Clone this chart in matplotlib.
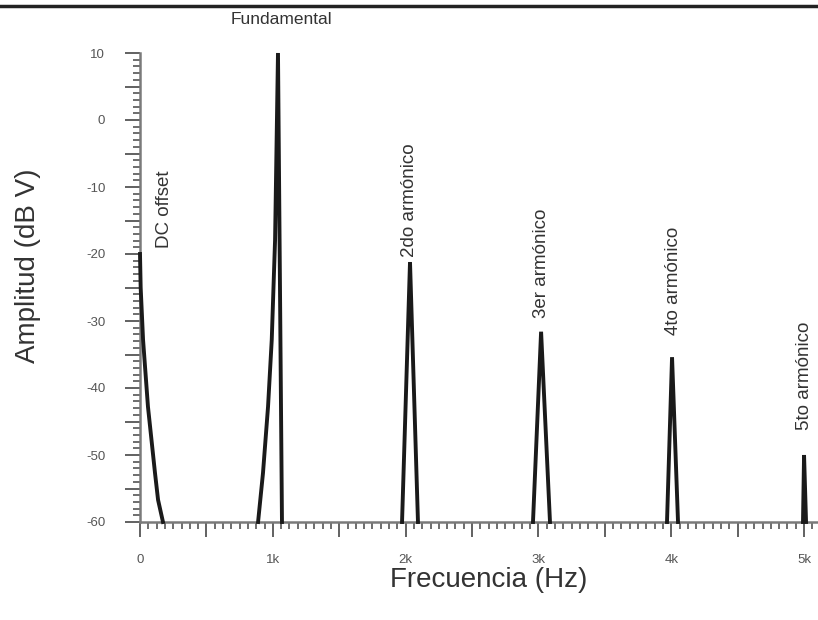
import matplotlib
matplotlib.use("Agg")
import matplotlib.pyplot as plt
from matplotlib.ticker import MultipleLocator, FuncFormatter
from matplotlib.lines import Line2D

plt.rcParams['font.family'] = ['Liberation Sans', 'DejaVu Sans']

# ---- data (Hz, dB V) ----
dc_freq = [0, 5, 23, 60, 113, 136, 173]
dc_db = [-20, -25, -32.8, -42.8, -52.7, -56.7, -60]

fund_freq = [889, 926, 964, 992, 1017, 1039, 1069]
fund_db = [-60, -52.7, -42.8, -32.8, -17.9, 10, -60]

h2_freq = [1973, 2033, 2093]
h2_db = [-60, -21.2, -60]

h3_freq = [2959, 3020, 3087]
h3_db = [-60, -31.6, -60]

h4_freq = [3968, 4006, 4051]
h4_db = [-60, -35.4, -60]

h5_freq = [4992, 5000, 5015]
h5_db = [-60, -50, -60]

labels = ["DC offset", "2do armónico", "3er armónico", "4to armónico", "5to armónico"]
label_x = [188, 2026, 3020, 4014, 5000]
label_y = [-19.1, -20.4, -29.6, -32.1, -46.3]

x_tick_labels = {0: "0", 1000: "1k", 2000: "2k", 3000: "3k", 4000: "4k", 5000: "5k"}

fig = plt.figure(figsize=(8.18, 6.2), dpi=100)
ax = fig.add_axes([140/818, 1 - 522/620, (818-140)/818, (522-53)/620])

lc = '#1a1a1a'
lw = 2.8
for fx, fy in [(dc_freq, dc_db), (fund_freq, fund_db), (h2_freq, h2_db),
               (h3_freq, h3_db), (h4_freq, h4_db), (h5_freq, h5_db)]:
    ax.plot(fx, fy, color=lc, lw=lw, solid_joinstyle='miter', clip_on=False, zorder=3)

ax.set_xlim(0, 5105)
ax.set_ylim(-60, 10)

for s in ['top', 'right']:
    ax.spines[s].set_visible(False)
axis_col = '#7a7a7a'
for s in ['left', 'bottom']:
    ax.spines[s].set_color(axis_col)
    ax.spines[s].set_linewidth(1.8)

ax.xaxis.set_major_locator(MultipleLocator(500))
ax.xaxis.set_minor_locator(MultipleLocator(62.5))
ax.xaxis.set_major_formatter(FuncFormatter(lambda v, p: x_tick_labels.get(int(round(v)), "")))
ax.yaxis.set_major_locator(MultipleLocator(5))
ax.yaxis.set_minor_locator(MultipleLocator(1))
ax.yaxis.set_major_formatter(FuncFormatter(lambda v, p: f"{int(round(v))}" if int(round(v)) % 10 == 0 else ""))

ax.tick_params(axis='both', which='major', direction='out', length=11, width=1.3,
               color='#555555', labelsize=9.5, labelcolor='#555555')
ax.tick_params(axis='both', which='minor', direction='out', length=5, width=1.2, color='#555555')
ax.tick_params(axis='x', which='major', pad=12)
ax.tick_params(axis='y', which='major', pad=14)

for t, x, y in zip(labels, label_x, label_y):
    ax.text(x, y, t, rotation=90, ha='center', va='bottom', fontsize=13.5,
            color='#333333', clip_on=False)

ax.text(fund_freq[5] + 23, 15.0, "Fundamental", ha='center', va='center',
        fontsize=12.5, color='#333333', clip_on=False)

fig.text(489/818, 1 - 580/620, "Frecuencia (Hz)", ha='center', va='center',
         fontsize=20, color='#333333')
fig.text(28/818, 1 - 266/620, "Amplitud (dB V)", ha='center', va='center',
         rotation=90, fontsize=20, color='#333333')

# top border line
fig.add_artist(Line2D([0, 1], [1 - 6/620, 1 - 6/620], transform=fig.transFigure,
                      color='#222222', lw=2.5))

fig.savefig("out.png", dpi=100)
